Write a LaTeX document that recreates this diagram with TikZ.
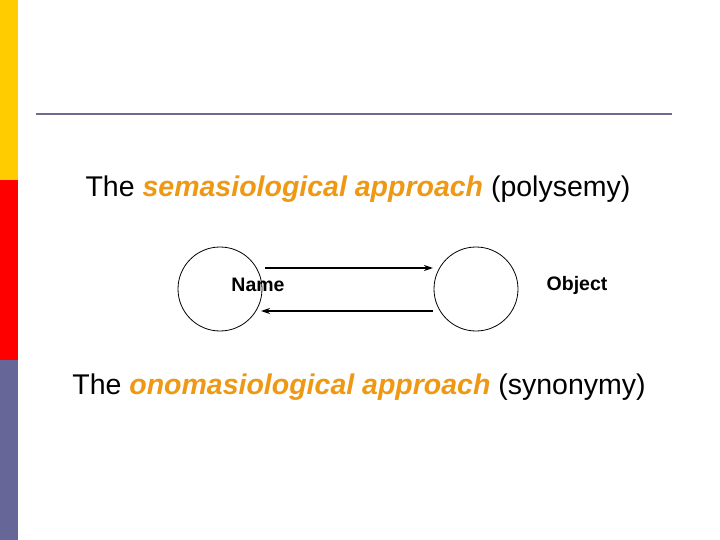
\documentclass[tikz,border=0pt]{standalone}
\usepackage{fontspec}
\setmainfont{Liberation Sans}
\usetikzlibrary{arrows.meta}
\definecolor{barY}{RGB}{255,204,0}
\definecolor{barR}{RGB}{255,0,0}
\definecolor{barB}{RGB}{102,102,153}
\definecolor{rule}{RGB}{110,108,140}
\definecolor{hl}{RGB}{238,152,20}
\tikzset{circ/.style={draw,circle,minimum size=84pt,inner sep=0pt,line width=0.8pt},
 lab/.style={font=\fontsize{19.5}{22}\selectfont\bfseries},
 head/.style={font=\fontsize{28.5}{34}\selectfont},
 arr/.style={line width=1.5pt,-{Stealth[length=9pt,width=6pt]}}}
\begin{document}
\begin{tikzpicture}[x=1pt,y=-1pt]
\useasboundingbox (0,0) rectangle (720,540);
\fill[white] (0,0) rectangle (720,540);
\fill[barY] (0,0) rectangle (18,180);
\fill[barR] (0,180) rectangle (18,360);
\fill[barB] (0,360) rectangle (18,540);
\draw[rule,line width=2.5pt] (36,114) -- (672,114);
\node[head] (t1) at (358,189) {The \textcolor{hl}{\bfseries\itshape semasiological approach} (polysemy)};
\node[head] (t2) at (359,387) {The \textcolor{hl}{\bfseries\itshape onomasiological approach} (synonymy)};
\node[circ] (c1) at (220,289) {};
\node[circ] (c2) at (476,289) {};
\node[lab] (n1) at (258,285) {Name};
\node[lab] (n2) at (577,285) {Object};
\coordinate (a1) at (265,268); \coordinate (a2) at (433,268);
\coordinate (b1) at (433,311); \coordinate (b2) at (261,311);
\draw[arr] (a1) -- (a2);
\draw[arr] (b1) -- (b2);
\end{tikzpicture}
\end{document}
